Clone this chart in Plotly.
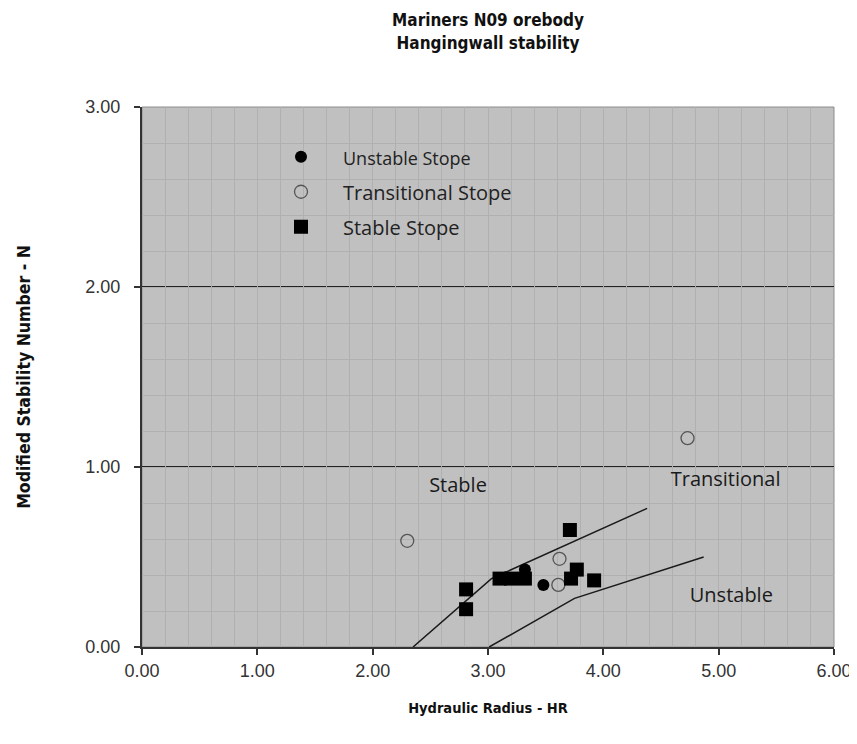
import plotly.graph_objects as go

# ---- data ----
unstable_hr = [3.32, 3.48]
unstable_n = [0.43, 0.345]

transitional_hr = [2.30, 3.62, 3.61, 4.73]
transitional_n = [0.59, 0.49, 0.345, 1.16]

stable_hr = [2.81, 2.81, 3.10, 3.20, 3.32, 3.71, 3.77, 3.72, 3.92]
stable_n = [0.32, 0.21, 0.38, 0.38, 0.38, 0.65, 0.43, 0.38, 0.37]

upper_hr = [2.35, 3.03, 4.38]
upper_n = [0.0, 0.38, 0.77]

lower_hr = [3.01, 3.75, 4.87]
lower_n = [0.0, 0.27, 0.50]

zone_labels = ["Stable", "Transitional", "Unstable"]
zone_hr = [2.74, 5.06, 5.11]
zone_n = [0.89, 0.92, 0.28]

boundary_n = [1.0, 2.0]

x_ticks = [0, 1, 2, 3, 4, 5, 6]
y_ticks = [0, 1, 2, 3]

fig = go.Figure()

fig.add_trace(go.Scatter(x=upper_hr, y=upper_n, mode="lines",
                         line=dict(color="#1a1a1a", width=1.5), showlegend=False, hoverinfo="skip"))
fig.add_trace(go.Scatter(x=lower_hr, y=lower_n, mode="lines",
                         line=dict(color="#1a1a1a", width=1.5), showlegend=False, hoverinfo="skip"))

fig.add_trace(go.Scatter(
    x=unstable_hr, y=unstable_n, mode="markers",
    name="<span style='font-size:18px'>Unstable Stope</span>",
    marker=dict(symbol="circle", size=12, color="black"),
    legendgroup="a"))
fig.add_trace(go.Scatter(
    x=transitional_hr, y=transitional_n, mode="markers",
    name="Transitional Stope",
    marker=dict(symbol="circle-open", size=13, color="#555555", line=dict(width=1.3)),
    legendgroup="b"))
fig.add_trace(go.Scatter(
    x=stable_hr, y=stable_n, mode="markers",
    name="Stable Stope",
    marker=dict(symbol="square", size=14, color="black"),
    legendgroup="c"))

fig.add_trace(go.Scatter(
    x=zone_hr, y=zone_n, mode="text", text=zone_labels,
    textfont=dict(family="Open Sans, Lato, sans-serif", size=20, color="#1a1a1a"),
    showlegend=False, hoverinfo="skip"))

for yb in boundary_n:
    fig.add_shape(type="line", xref="x", yref="y", x0=0, x1=6, y0=yb, y1=yb,
                  line=dict(color="#222222", width=2), layer="below")

fig.add_shape(type="rect", xref="paper", yref="paper", x0=0, x1=1, y0=0, y1=1,
              line=dict(color="#8c8c8c", width=1), layer="below")

axis_font = dict(family="Liberation Sans, Arial, sans-serif", size=18, color="#333333")
cond = "DejaVu Sans Condensed, Liberation Sans Narrow, sans-serif"

W, H = 849, 736
L, T, R, B = 134, 99, 23, 97

fig.update_layout(
    width=W, height=H,
    margin=dict(l=L, r=R, t=T, b=B, autoexpand=False),
    paper_bgcolor="white",
    plot_bgcolor="#c0c0c0",
    title=dict(text="<b>Mariners N09 orebody<br>Hangingwall stability</b>",
               x=(L + (W - R)) / 2 / W, xanchor="center", y=0.975, yanchor="top",
               font=dict(family=cond, size=17, color="#111111")),
    xaxis=dict(range=[0, 6], tickvals=x_ticks, ticktext=[f"{v:.2f}" for v in x_ticks],
               showgrid=False, zeroline=False,
               showline=True, linecolor="#333333", linewidth=2,
               ticks="outside", ticklen=6, tickcolor="#333333", tickwidth=1.5,
               tickfont=axis_font,
               minor=dict(dtick=0.2, showgrid=True, gridcolor="#b0b0b0", gridwidth=1),
               title=dict(text="<b>Hydraulic Radius - HR</b>",
                          font=dict(family=cond, size=14.5, color="#111111"), standoff=23)),
    yaxis=dict(range=[0, 3], tickvals=y_ticks, ticktext=[f"{v:.2f}" for v in y_ticks],
               showgrid=False, zeroline=False,
               showline=True, linecolor="#333333", linewidth=2,
               ticks="outside", ticklen=6, tickcolor="#333333", tickwidth=1.5,
               tickfont=axis_font, ticklabelstandoff=10,
               minor=dict(dtick=0.2, showgrid=True, gridcolor="#b0b0b0", gridwidth=1),
               title=dict(text="<b>Modified Stability Number - N</b>",
                          font=dict(family=cond, size=17.5, color="#111111"), standoff=50)),
    legend=dict(x=(258 - 141) / 692, y=0.944, xanchor="left", yanchor="top",
                bgcolor="rgba(0,0,0,0)", borderwidth=0,
                font=dict(family="Open Sans, Lato, sans-serif", size=20, color="#222222"),
                tracegroupgap=6, itemsizing="trace", itemwidth=74),
)

fig.write_html("out.html")
